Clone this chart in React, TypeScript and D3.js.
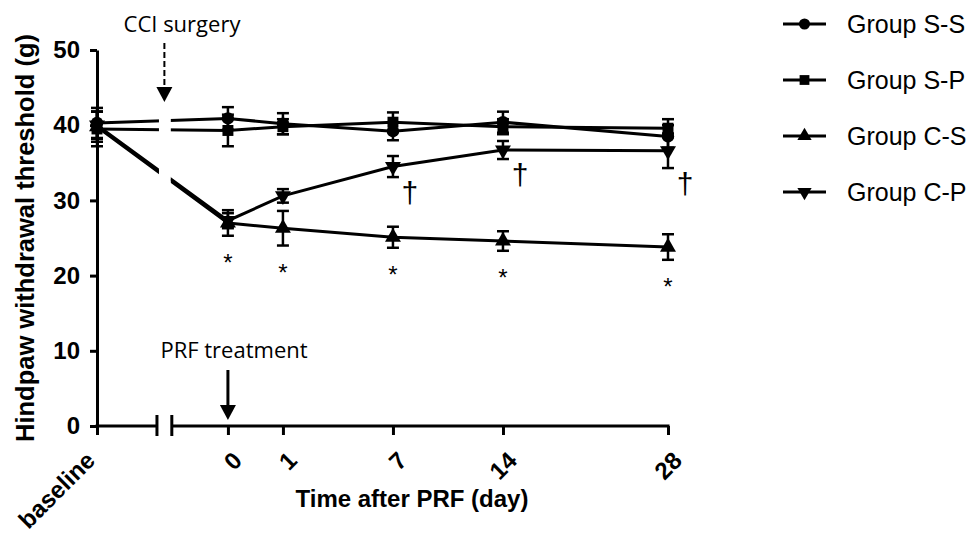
import * as d3 from "d3";
import { useEffect, useRef } from "react";

// time points; slots give the (non-linear) spacing used on the x axis
const timeLabels = ["baseline", "0", "1", "7", "14", "28"];
const timeSlots = [-2.38, 0, 1, 3, 5, 8];
const breakSlots = [-1.29, -1.02];

const groupNames = ["Group S-S", "Group S-P", "Group C-S", "Group C-P"];
const ssMean = [40.3, 40.9, 40.2, 39.2, 40.4, 38.5];
const ssErr = [2.0, 1.5, 1.4, 1.2, 1.4, 1.5];
const spMean = [39.5, 39.3, 39.8, 40.4, 39.8, 39.6];
const spErr = [2.3, 2.1, 1.0, 1.3, 1.0, 1.2];
const csMean = [39.8, 27.0, 26.3, 25.1, 24.6, 23.8];
const csErr = [2.0, 1.7, 2.3, 1.4, 1.3, 1.7];
const cpMean = [40.0, 27.3, 30.6, 34.5, 36.7, 36.6];
const cpErr = [1.8, 1.0, 0.9, 1.4, 1.2, 2.3];

const starIdx = [1, 2, 3, 4, 5]; // C-S vs S-S
const daggerIdx = [3, 4, 5]; // C-P vs C-S

const yTicks = [0, 10, 20, 30, 40, 50];

const FONT = "'Liberation Sans', Arial, sans-serif";

export default function App() {
  const ref = useRef<SVGSVGElement>(null);

  const svgWidth = 969,
    svgHeight = 533;
  const margin = { top: 50, left: 97 },
    plotBottom = 426,
    plotRight = 668;

  useEffect(() => {
    const svg = d3.select(ref.current);
    svg.selectAll("*").remove();

    const x = d3
      .scaleLinear()
      .domain([timeSlots[0], timeSlots[timeSlots.length - 1]])
      .range([margin.left, plotRight]);
    const y = d3.scaleLinear().domain([0, 50]).range([plotBottom, margin.top]);

    // clip that cuts the lines at the axis break
    const gapL = x(breakSlots[0]) + 2,
      gapR = x(breakSlots[1]) - 1;
    const clip = svg.append("clipPath").attr("id", "gapclip");
    clip.append("rect").attr("x", 0).attr("y", 0).attr("width", gapL).attr("height", svgHeight);
    clip
      .append("rect")
      .attr("x", gapR)
      .attr("y", 0)
      .attr("width", svgWidth - gapR)
      .attr("height", svgHeight);

    // y axis
    const yAxis = svg
      .append("g")
      .attr("transform", `translate(${margin.left},0)`)
      .call(d3.axisLeft(y).tickValues(yTicks).tickSize(7).tickSizeOuter(0).tickPadding(10));
    yAxis.select(".domain").attr("stroke-width", 3);
    yAxis.selectAll(".tick line").attr("stroke-width", 3);
    yAxis
      .selectAll(".tick text")
      .attr("font-family", FONT)
      .attr("font-weight", "bold")
      .attr("font-size", 24)
      .attr("fill", "#000");

    // x axis with a break
    const xAxis = svg
      .append("g")
      .attr("transform", `translate(0,${plotBottom})`)
      .call(
        d3
          .axisBottom(x)
          .tickValues(timeSlots)
          .tickFormat((d, i) => timeLabels[i])
          .tickSize(9)
          .tickSizeOuter(0)
      );
    xAxis.select(".domain").remove();
    xAxis.selectAll(".tick line").attr("stroke-width", 3);
    xAxis
      .selectAll(".tick text")
      .attr("font-family", FONT)
      .attr("font-weight", "bold")
      .attr("font-size", 24)
      .attr("fill", "#000")
      .attr("text-anchor", "end")
      .attr("y", 0)
      .attr("dy", 0)
      .attr("transform", (d, i) => `translate(${i === 0 ? -1 : 15},36) rotate(-45)`);
    const axisG = svg.append("g").attr("stroke", "#000").attr("stroke-width", 3);
    axisG
      .append("line")
      .attr("x1", x(timeSlots[0]) - 1.5)
      .attr("x2", x(breakSlots[0]))
      .attr("y1", plotBottom)
      .attr("y2", plotBottom);
    axisG
      .append("line")
      .attr("x1", x(breakSlots[1]))
      .attr("x2", x(timeSlots[timeSlots.length - 1]) + 1.5)
      .attr("y1", plotBottom)
      .attr("y2", plotBottom);
    breakSlots.forEach((b) => {
      axisG
        .append("line")
        .attr("x1", x(b))
        .attr("x2", x(b))
        .attr("y1", plotBottom - 11)
        .attr("y2", plotBottom + 10);
    });

    // axis titles
    svg
      .append("text")
      .attr("transform", `translate(34,238) rotate(-90)`)
      .attr("text-anchor", "middle")
      .attr("font-family", FONT)
      .attr("font-weight", "bold")
      .attr("font-size", 25.5)
      .text("Hindpaw withdrawal threshold (g)");
    svg
      .append("text")
      .attr("x", 412)
      .attr("y", 507)
      .attr("text-anchor", "middle")
      .attr("font-family", FONT)
      .attr("font-weight", "bold")
      .attr("font-size", 24)
      .text("Time after PRF (day)");

    const series = [
      { mean: ssMean, err: ssErr, shape: d3.symbolCircle, size: 120, rot: 0 },
      { mean: spMean, err: spErr, shape: d3.symbolSquare, size: 120, rot: 0 },
      { mean: csMean, err: csErr, shape: d3.symbolTriangle, size: 110, rot: 0 },
      { mean: cpMean, err: cpErr, shape: d3.symbolTriangle, size: 110, rot: 180 },
    ];

    const line = d3
      .line<number>()
      .x((d, i) => x(timeSlots[i]))
      .y((d) => y(d));

    const dataG = svg.append("g");
    series.forEach((s) => {
      dataG
        .append("path")
        .attr("d", line(s.mean))
        .attr("fill", "none")
        .attr("stroke", "#000")
        .attr("stroke-width", 3)
        .attr("clip-path", "url(#gapclip)");
    });
    series.forEach((s) => {
      const g = dataG.append("g");
      s.mean.forEach((m, i) => {
        const cx = x(timeSlots[i]);
        const hi = y(m + s.err[i]),
          lo = y(m - s.err[i]);
        g.append("line")
          .attr("x1", cx)
          .attr("x2", cx)
          .attr("y1", hi)
          .attr("y2", lo)
          .attr("stroke", "#000")
          .attr("stroke-width", 2.5);
        [hi, lo].forEach((yy) => {
          g.append("line")
            .attr("x1", cx - 6)
            .attr("x2", cx + 6)
            .attr("y1", yy)
            .attr("y2", yy)
            .attr("stroke", "#000")
            .attr("stroke-width", 2.5);
        });
        g.append("path")
          .attr("d", d3.symbol(s.shape, s.size)())
          .attr("transform", `translate(${cx},${y(m)}) rotate(${s.rot})`)
          .attr("fill", "#000");
      });
    });

    // significance marks
    starIdx.forEach((i) => {
      svg
        .append("text")
        .attr("x", x(timeSlots[i]))
        .attr("y", y(csMean[i] - csErr[i]) + 35)
        .attr("text-anchor", "middle")
        .attr("font-family", FONT)
        .attr("font-size", 24)
        .text("*");
    });
    daggerIdx.forEach((i) => {
      svg
        .append("text")
        .attr("x", x(timeSlots[i]) + 17)
        .attr("y", y(cpMean[i] - cpErr[i]) + 26)
        .attr("text-anchor", "middle")
        .attr("font-family", FONT)
        .attr("font-size", 30)
        .text("\u2020");
    });

    // annotations
    const ccix = x((breakSlots[0] + breakSlots[1]) / 2);
    svg
      .append("text")
      .attr("x", 182)
      .attr("y", 32)
      .attr("text-anchor", "middle")
      .attr("font-family", "'Open Sans', sans-serif")
      .attr("font-size", 22)
      .text("CCI surgery");
    svg
      .append("line")
      .attr("x1", ccix)
      .attr("x2", ccix)
      .attr("y1", 43)
      .attr("y2", 88)
      .attr("stroke", "#000")
      .attr("stroke-width", 2)
      .attr("stroke-dasharray", "6,3");
    svg
      .append("path")
      .attr("d", `M${ccix - 8},87L${ccix + 8},87L${ccix},102Z`)
      .attr("fill", "#000");

    const prfx = x(0);
    svg
      .append("text")
      .attr("x", 234)
      .attr("y", 358)
      .attr("text-anchor", "middle")
      .attr("font-family", "'Open Sans', sans-serif")
      .attr("font-size", 22)
      .text("PRF treatment");
    svg
      .append("line")
      .attr("x1", prfx)
      .attr("x2", prfx)
      .attr("y1", 370)
      .attr("y2", 406)
      .attr("stroke", "#000")
      .attr("stroke-width", 3);
    svg
      .append("path")
      .attr("d", `M${prfx - 8},405L${prfx + 8},405L${prfx},420Z`)
      .attr("fill", "#000");

    // legend
    const legend = svg.append("g").attr("transform", "translate(783,24)");
    groupNames.forEach((name, i) => {
      const g = legend.append("g").attr("transform", `translate(0,${i * 56})`);
      g.append("line")
        .attr("x1", 0)
        .attr("x2", 43)
        .attr("y1", 0)
        .attr("y2", 0)
        .attr("stroke", "#000")
        .attr("stroke-width", 3);
      g.append("path")
        .attr("d", d3.symbol(series[i].shape, series[i].size * 0.8)())
        .attr("transform", `translate(21.5,0) rotate(${series[i].rot})`)
        .attr("fill", "#000");
      g.append("text")
        .attr("x", 64)
        .attr("y", 9)
        .attr("font-family", FONT)
        .attr("font-size", 25)
        .text(name);
    });
  }, []);

  return (
    <svg
      ref={ref}
      width={svgWidth}
      height={svgHeight}
      style={{ position: "absolute", left: 0, top: 0, background: "#fff" }}
    />
  );
}
